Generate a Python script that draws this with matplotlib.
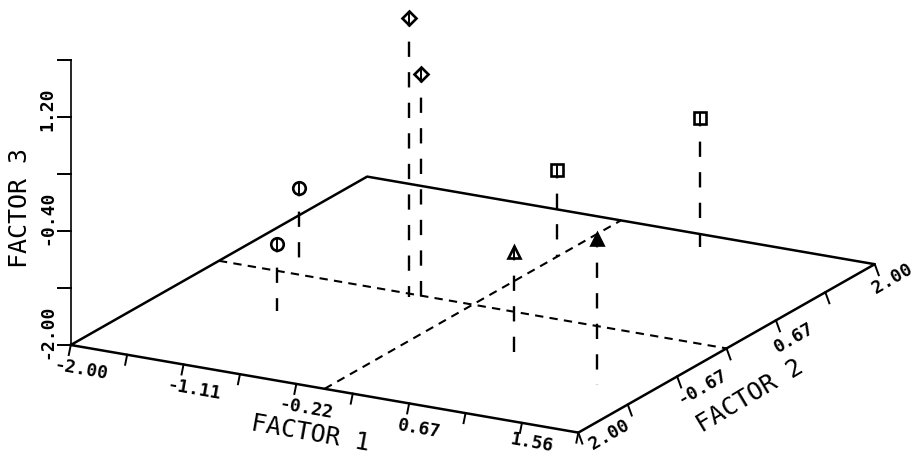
import numpy as np
import matplotlib
matplotlib.use("Agg")
import matplotlib.pyplot as plt

factor1 = [-0.47, -0.37, -1.52, -1.12, 0.00, 0.76, 0.84, 1.61]
factor2 = [-0.06, -0.06, 0.26, -0.73, 1.14, 1.77, -0.88, -1.08]
factor3 = [1.92, 1.16, -0.98, -1.06, -0.79, -0.20, -0.48, 0.05]
symbols = ['D', 'D', 'o', 'o', 's', 's', '^', '^']
filled = [False, False, False, False, False, False, False, True]
sizes = {'D': 7.5, 'o': 9, 's': 9, '^': 8}

f1_ticks = np.linspace(-2, 2, 10)
f2_ticks = np.linspace(-2, 2, 7)
f3_ticks = np.linspace(-2, 2, 6)
f1_labels = ['-2.00', '-1.11', '-0.22', '0.67', '1.56']
f2_labels = ['2.00', '-0.67', '0.67', '2.00']
f3_labels = ['-2.00', '-0.40', '1.20']

plt.rcParams['lines.scale_dashes'] = False
plt.rcParams['font.family'] = ['DejaVu Sans Mono']


# oblique view of the three factors, result is in image pixels
def view(a, b, c=-2.0):
    a, b, c = np.asarray(a), np.asarray(b), np.asarray(c)
    x = 472.75 + 126.9 * a + 74.1 * b
    y = 304.6 + 21.9 * a - 42.1 * b - 71.25 * (c + 2)
    return x, y


fig = plt.figure(figsize=(9.15, 4.55), dpi=100)
ax = fig.add_axes([0, 0, 1, 1])
ax.set_xlim(0, 915)
ax.set_ylim(455, 0)
ax.axis('off')

# floor
x, y = view([-2, 2, 2, -2, -2], [-2, -2, 2, 2, -2])
ax.plot(x, y, color='black', lw=1.8)

# dashed centre lines on the floor
x, y = view([0, 0], [-2, 2])
ax.plot(x, y, color='black', lw=1.5, ls=(0, (6, 4.5)))
x, y = view([-2, 2], [0, 0])
ax.plot(x, y, color='black', lw=1.5, ls=(0, (6, 4.5)))

# factor 3 axis
x, y = view([-2, -2], [-2, -2], [-2, 2])
ax.plot(x, y, color='black', lw=1.2)

# ticks
for t in f1_ticks:
    x, y = view(t, -2)
    ax.plot([x, x - 2], [y, y + 10], color='black', lw=1.4)
for t in f2_ticks:
    x, y = view(2, t)
    ax.plot([x, x + 4], [y, y + 11], color='black', lw=1.4)
for t in f3_ticks:
    x, y = view(-2, -2, t)
    ax.plot([x, x - 13], [y, y], color='black', lw=1.4)

# tick labels, the lowest ones are kept inside the picture
for t, s in zip(f1_ticks[::2], f1_labels):
    x, y = view(t, -2)
    ax.text(x + 10, min(y + 25, 443), s, rotation=-10, ha='center', va='center',
            fontsize=13, fontweight='bold', rotation_mode='anchor')
for t, s, dx, dy in zip(f2_ticks[::2], f2_labels, [31, 25, 18, 18], [2, 11, 17, 15]):
    x, y = view(2, t)
    ax.text(x + dx, y + dy, s, rotation=30, ha='center', va='center',
            fontsize=13, fontweight='bold', rotation_mode='anchor')
for t, s in zip(f3_ticks[::2], f3_labels):
    x, y = view(-2, -2, t)
    ax.text(x - 23, y + 14, s, rotation=90, ha='center', va='bottom',
            fontsize=13, fontweight='bold')

# axis titles
ax.text(310, 434, 'FACTOR 1', rotation=-10, ha='center', va='center', fontsize=18,
        rotation_mode='anchor')
ax.text(750, 396, 'FACTOR 2', rotation=31, ha='center', va='center', fontsize=18,
        rotation_mode='anchor')
ax.text(20, 208, 'FACTOR 3', rotation=90, ha='center', va='center', fontsize=18)

# points with their stems down to the floor
for a, b, c, m, f in zip(factor1, factor2, factor3, symbols, filled):
    x0, y0 = view(a, b)
    x1, y1 = view(a, b, c)
    ax.plot([x1, x0], [y1, y0], color='black', lw=1.7, ls=(5, (11, 11)),
            dash_capstyle='butt')
    ax.plot(x1, y1, m, ms=sizes[m], mew=1.9, mec='black', mfc='black' if f else 'white', zorder=5)
    ax.plot([x1, x1], [y1 - 5, y1 + 5], color='black', lw=1.4, zorder=6)

fig.savefig('out.png', dpi=100)
